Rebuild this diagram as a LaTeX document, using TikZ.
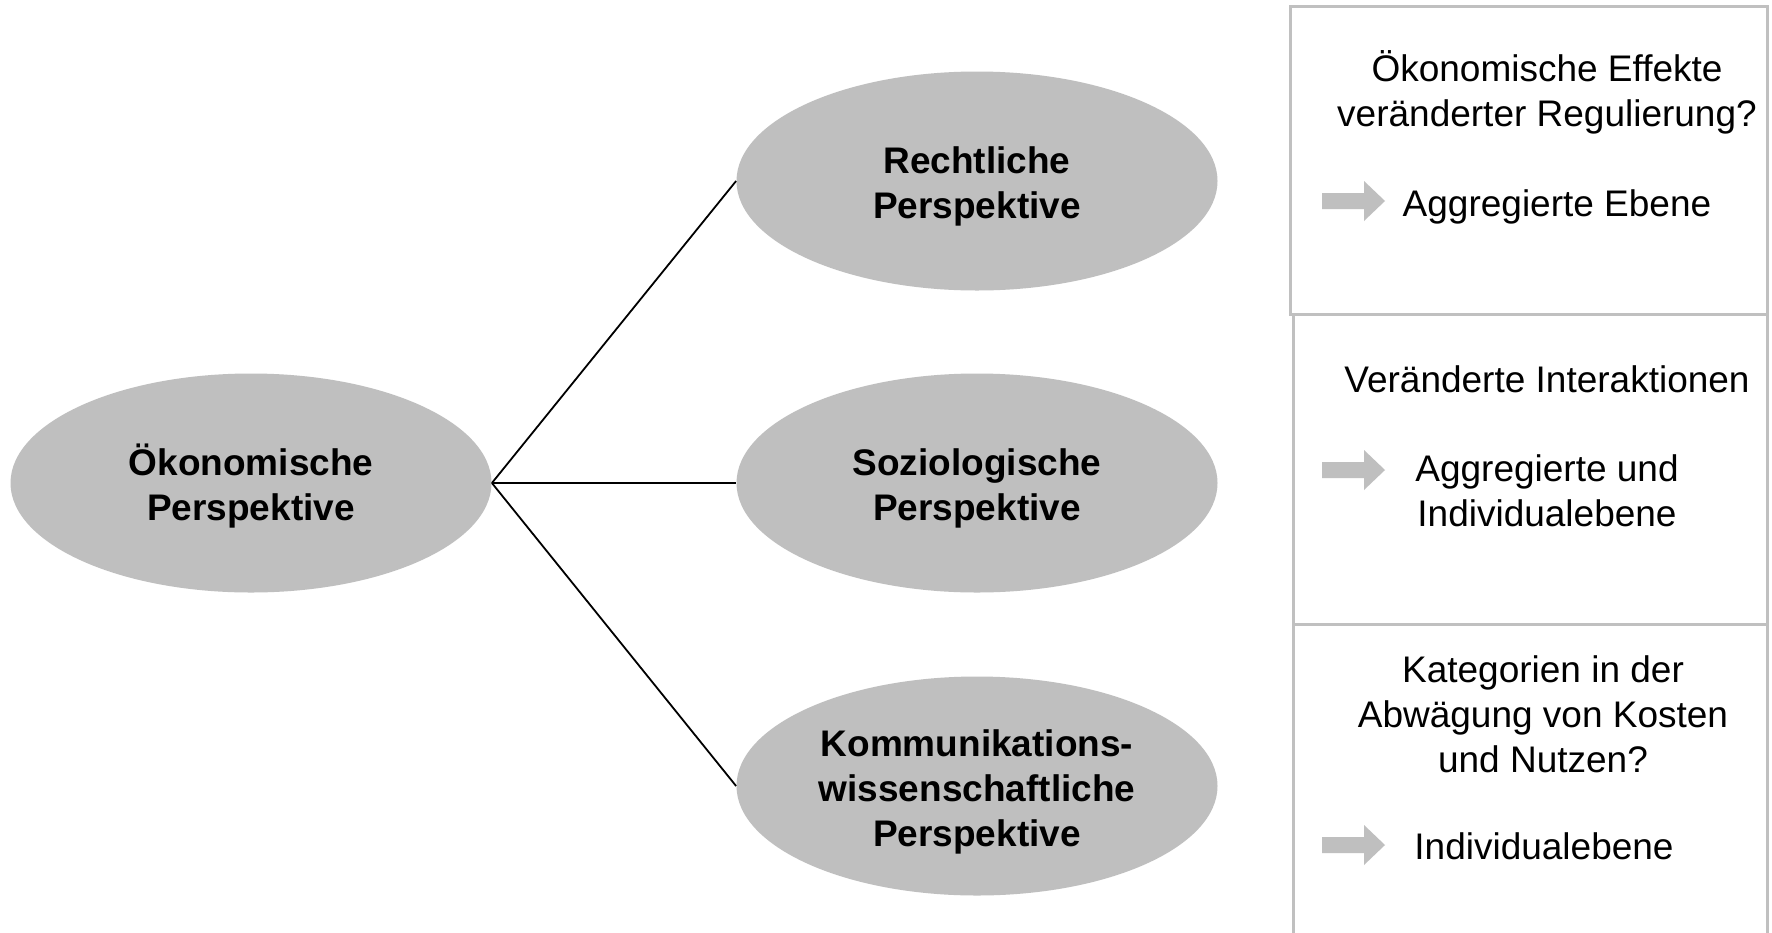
\documentclass[tikz,border=0pt]{standalone}
\usepackage{fontspec}
\setmainfont{Liberation Sans}
\usetikzlibrary{shapes.geometric}
\definecolor{ellgray}{HTML}{BFBFBF}
\definecolor{framegray}{HTML}{C0C0C0}
\newcommand{\topstrut}{\rule{0pt}{19pt}}
\begin{document}
\begin{tikzpicture}[x=0.5pt,y=-0.5pt,
  persp/.style={ellipse, fill=ellgray, draw=none, minimum width=240.5pt, minimum height=109.5pt, inner sep=0pt, align=center, font=\bfseries\fontsize{18.5pt}{22.5pt}\selectfont},
  conn/.style={draw=black, line width=0.9pt},
  boxframe/.style={draw=framegray, line width=1.5pt},
  txt/.style={align=center, inner sep=0pt, font=\fontsize{18.5pt}{22.5pt}\selectfont},
  blockarr/.pic={\fill[ellgray] (0,-8) -- (42,-8) -- (42,-20) -- (63,0) -- (42,20) -- (42,8) -- (0,8) -- cycle;}
]
\useasboundingbox (0,0) rectangle (1772,932);
\fill[white] (0,0) rectangle (1772,932);
\clip (0,0) rectangle (1772,932);

% ellipses
\node[persp] (oek) at (251,483) {\topstrut Ökonomische\\Perspektive};
\node[persp] (recht) at (977,181) {\topstrut Rechtliche\\Perspektive};
\node[persp] (sozio) at (977,483) {\topstrut Soziologische\\Perspektive};
\node[persp] (komm) at (977,786) {\topstrut Kommunikations-\\wissenschaftliche\\Perspektive};

% connectors
\draw[conn] (oek.east) -- (recht.west);
\draw[conn] (oek.east) -- (sozio.west);
\draw[conn] (oek.east) -- (komm.west);

% right boxes
\draw[boxframe] (1290,6) rectangle (1767,314);
\draw[boxframe] (1293,314) rectangle (1767,624);
\draw[boxframe] (1293,960) -- (1293,624) -- (1767,624) -- (1767,960);

% box 1
\node[txt] (q1) at (1547,92) {Ökonomische Effekte\\veränderter Regulierung?};
\pic at (1322,201) {blockarr};
\node[txt, anchor=base] (a1) at (1557,216) {Aggregierte Ebene};

% box 2
\node[txt, anchor=base] (q2) at (1547,392) {Veränderte Interaktionen};
\pic at (1322,470) {blockarr};
\node[txt] (a2) at (1547,491) {Aggregierte und\\Individualebene};

% box 3
\node[txt] (q3) at (1543,714) {Kategorien in der\\Abwägung von Kosten\\und Nutzen?};
\pic at (1322,845) {blockarr};
\node[txt, anchor=base] (a3) at (1544,859) {Individualebene};
\end{tikzpicture}
\end{document}
